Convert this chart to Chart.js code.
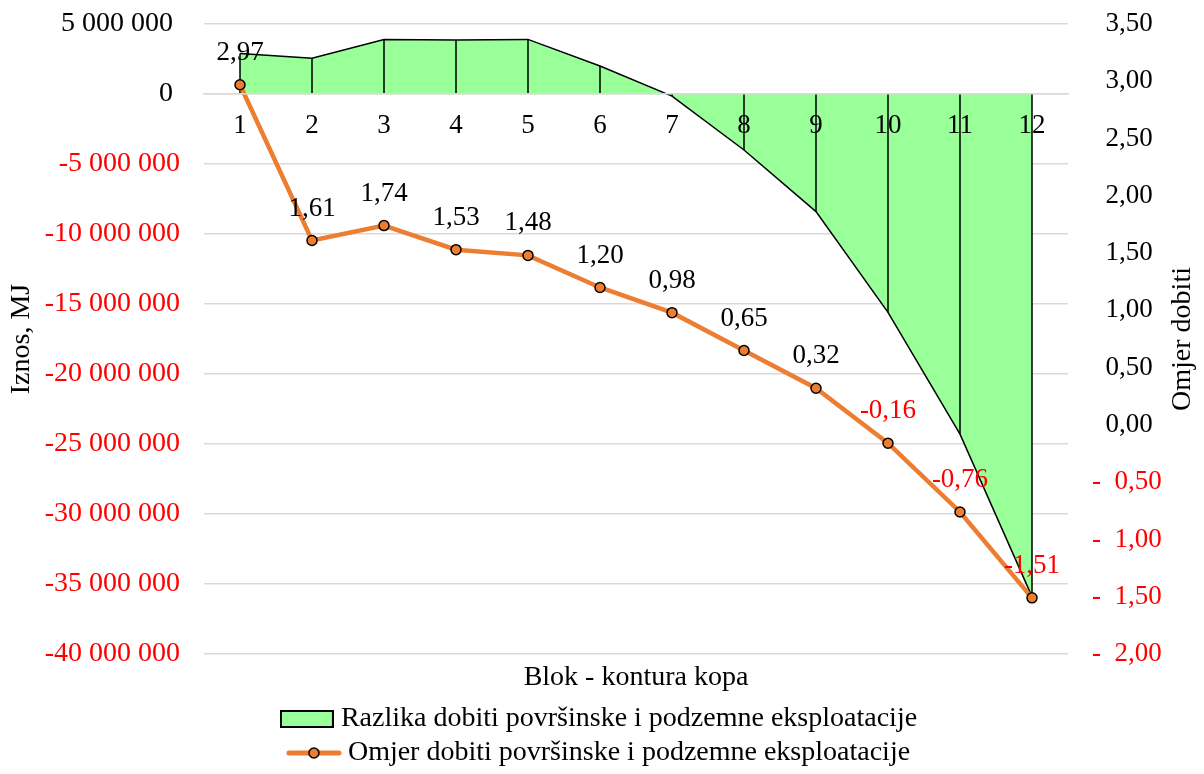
<!DOCTYPE html>
<html>
<head>
<meta charset="utf-8">
<script src="https://cdn.jsdelivr.net/npm/chart.js@4.4.1/dist/chart.umd.min.js"></script>
<style>
  html, body { margin: 0; padding: 0; background: #fff; }
  #wrap { width: 1204px; height: 774px; }
</style>
</head>
<body>
<div id="wrap"><canvas id="chart" width="1204" height="774"></canvas></div>
<script>
// categories: block / pit contour
const blocks = ['1', '2', '3', '4', '5', '6', '7', '8', '9', '10', '11', '12'];

// difference in profit, surface minus underground (MJ)
const difference_values = [2900000, 2550000, 3900000, 3850000, 3900000, 2000000,
    -150000, -4000000, -8400000, -15600000, -24300000, -35900000];

// ratio of profit, surface / underground
const ratio_values = [2.97, 1.61, 1.74, 1.53, 1.48, 1.20, 0.98, 0.65, 0.32, -0.16, -0.76, -1.51];

// axis ranges
const amount_ticks = [-40000000, 5000000, 5000000];   // min, max, step
const ratio_ticks = [-2.0, 3.5, 0.5];

const series_labels = [
    'Razlika dobiti površinske i podzemne eksploatacije',
    'Omjer dobiti površinske i podzemne eksploatacije'
];
const x_title = 'Blok - kontura kopa';
const left_title = 'Iznos, MJ';
const right_title = 'Omjer dobiti';

const serif = "'Liberation Serif', 'Times New Roman', serif";
const area_fill = '#99FF99';
const line_color = '#ED7D31';
const grid_color = '#D9D9D9';
const negative_color = '#FF0000';
const clear = 'rgba(0,0,0,0)';

Chart.defaults.font.family = serif;
Chart.defaults.font.size = 28;
Chart.defaults.color = '#000';

// excel style: positives keep a trailing space, negatives don't
function format_amount(v) {
    const s = String(Math.abs(Math.round(v))).replace(/\B(?=(\d{3})+(?!\d))/g, ' ');
    return v < 0 ? '-' + s : s + ' ';
}

function format_ratio(v) {
    const s = Math.abs(v).toFixed(2).replace('.', ',');
    return v < 0 ? '-  ' + s : '  ' + s;
}

function tick_color(ctx) {
    return ctx.tick && ctx.tick.value < 0 ? negative_color : '#000';
}

// legend swatches
function make_area_swatch() {
    const c = document.createElement('canvas');
    c.width = 54; c.height = 18;
    const g = c.getContext('2d');
    g.fillStyle = area_fill;
    g.fillRect(1, 1, 52, 16);
    g.strokeStyle = '#000';
    g.lineWidth = 2;
    g.strokeRect(1, 1, 52, 16);
    return c;
}

function make_line_swatch() {
    const c = document.createElement('canvas');
    c.width = 56; c.height = 14;
    const g = c.getContext('2d');
    g.strokeStyle = line_color;
    g.lineWidth = 5;
    g.lineCap = 'round';
    g.beginPath(); g.moveTo(3, 7); g.lineTo(53, 7); g.stroke();
    g.fillStyle = line_color;
    g.strokeStyle = '#000';
    g.lineWidth = 1.5;
    g.beginPath(); g.arc(28, 7, 5, 0, Math.PI * 2); g.fill(); g.stroke();
    return c;
}

// vertical drop lines under the area series
const drop_lines = {
    id: 'drop_lines',
    afterDatasetDraw(chart, args) {
        if (args.index !== 0) return;
        const ctx = chart.ctx;
        const zero_y = chart.scales.y.getPixelForValue(0);
        ctx.save();
        ctx.strokeStyle = '#000';
        ctx.lineWidth = 1.5;
        args.meta.data.forEach(pt => {
            ctx.beginPath();
            ctx.moveTo(pt.x, pt.y);
            ctx.lineTo(pt.x, zero_y);
            ctx.stroke();
        });
        ctx.restore();
    }
};

// value labels above the ratio points
const value_labels = {
    id: 'value_labels',
    afterDatasetsDraw(chart) {
        const ctx = chart.ctx;
        const meta = chart.getDatasetMeta(1);
        ctx.save();
        ctx.font = '27px ' + serif;
        ctx.textAlign = 'center';
        ctx.textBaseline = 'middle';
        meta.data.forEach((pt, i) => {
            const v = ratio_values[i];
            ctx.fillStyle = v < 0 ? negative_color : '#000';
            ctx.fillText(v.toFixed(2).replace('.', ','), pt.x, pt.y - 32);
        });
        ctx.restore();
    }
};

// rotated axis titles (both read bottom to top)
const axis_titles = {
    id: 'axis_titles',
    afterDraw(chart) {
        const ctx = chart.ctx;
        const area = chart.chartArea;
        const mid = (area.top + area.bottom) / 2;
        ctx.save();
        ctx.font = '28px ' + serif;
        ctx.fillStyle = '#000';
        ctx.textAlign = 'center';
        ctx.textBaseline = 'middle';
        [[22, left_title], [1183, right_title]].forEach(([x, text]) => {
            ctx.save();
            ctx.translate(x, mid);
            ctx.rotate(-Math.PI / 2);
            ctx.fillText(text, 0, 0);
            ctx.restore();
        });
        ctx.restore();
    }
};

new Chart(document.getElementById('chart'), {
    type: 'line',
    data: {
        labels: blocks,
        datasets: [{
            label: series_labels[0],
            data: difference_values,
            yAxisID: 'y',
            xAxisID: 'x',
            fill: 'origin',
            backgroundColor: area_fill,
            borderColor: '#000',
            borderWidth: 1.5,
            pointRadius: 0,
            tension: 0,
            order: 2
        }, {
            label: series_labels[1],
            data: ratio_values,
            yAxisID: 'y1',
            xAxisID: 'x',
            fill: false,
            borderColor: line_color,
            borderWidth: 4.5,
            pointRadius: 5,
            pointBackgroundColor: line_color,
            pointBorderColor: '#000',
            pointBorderWidth: 1.5,
            tension: 0,
            order: 1
        }]
    },
    options: {
        responsive: false,
        animation: false,
        layout: { padding: { top: 24, left: 30, right: 30, bottom: -3 } },
        plugins: {
            tooltip: { enabled: false },
            legend: {
                position: 'bottom',
                labels: {
                    usePointStyle: true,
                    pointStyleWidth: 40,
                    padding: 6,
                    font: { size: 28 },
                    generateLabels: () => [
                        { text: series_labels[0], pointStyle: make_area_swatch(), datasetIndex: 0, hidden: false, lineWidth: 0 },
                        { text: series_labels[1], pointStyle: make_line_swatch(), datasetIndex: 1, hidden: false, lineWidth: 0 }
                    ]
                }
            }
        },
        scales: {
            x: {
                type: 'category',
                position: { y: 0 },
                offset: true,
                grid: { display: false },
                border: { display: true, color: grid_color, width: 1.5, z: 1 },
                ticks: { padding: 8, maxRotation: 0, autoSkip: false, z: 1, font: { size: 27 } }
            },
            x2: {
                type: 'category',
                position: 'bottom',
                offset: true,
                grid: { display: false },
                border: { display: false },
                ticks: { display: false },
                title: { display: true, text: x_title, padding: { top: 4, bottom: 5 } },
                afterFit: s => { s.height = 45; }
            },
            y: {
                position: 'left',
                min: amount_ticks[0],
                max: amount_ticks[1],
                grid: { color: grid_color, lineWidth: 1.5, drawTicks: true, tickLength: 24, tickColor: clear },
                border: { display: false },
                ticks: {
                    stepSize: amount_ticks[2],
                    padding: 0,
                    color: tick_color,
                    callback: v => format_amount(v)
                },
                afterFit: s => { s.width = 174; }
            },
            y1: {
                position: 'right',
                min: ratio_ticks[0],
                max: ratio_ticks[1],
                grid: { display: true, drawOnChartArea: false, drawTicks: true, tickLength: 24, tickColor: clear },
                border: { display: false },
                ticks: {
                    stepSize: ratio_ticks[2],
                    padding: 0,
                    color: tick_color,
                    font: { size: 27 },
                    callback: v => format_ratio(v)
                },
                afterFit: s => { s.width = 106; }
            }
        }
    },
    plugins: [drop_lines, value_labels, axis_titles]
});
</script>
</body>
</html>
